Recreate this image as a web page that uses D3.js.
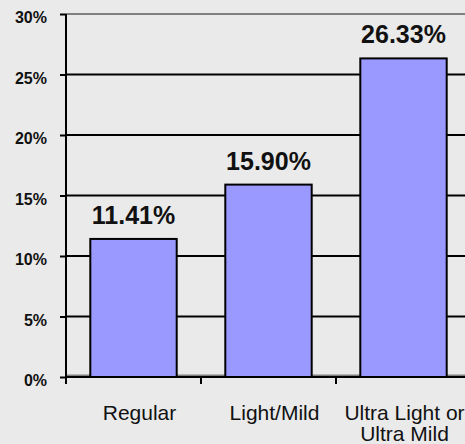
<!DOCTYPE html>
<html>
<head>
<meta charset="utf-8">
<script src="https://cdn.jsdelivr.net/npm/d3@7"></script>
<style>
  body { margin: 0; background: #eaeaea; }
  svg { display: block; font-family: Arial, "Liberation Sans", sans-serif; }
</style>
</head>
<body>
<svg width="465" height="444"></svg>
<script>
// chart data
const categories = ["Regular", "Light/Mild", "Ultra Light or Ultra Mild"]
const catLines = [["Regular"], ["Light/Mild"], ["Ultra Light or", "Ultra Mild"]]
const values = [11.41, 15.90, 26.33]
const valueLabels = ["11.41%", "15.90%", "26.33%"]
const yTicks = [0, 5, 10, 15, 20, 25, 30]

const svg = d3.select("svg")

// plot area
const plotLeft = 66, plotRight = 471, plotTop = 14, plotBottom = 377

const x = d3.scaleBand()
  .domain(categories)
  .range([plotLeft, plotRight])
  .paddingInner(0.36)
  .paddingOuter(0.18)

const y = d3.scaleLinear()
  .domain([0, 30])
  .range([plotBottom, plotTop])

// gridlines
svg.append("g")
  .selectAll("line")
  .data(yTicks.filter(d => d > 0))
  .join("line")
  .attr("x1", plotLeft)
  .attr("x2", 465)
  .attr("y1", d => y(d))
  .attr("y2", d => y(d))
  .attr("stroke", d => d === 30 ? "#808080" : "#000")
  .attr("stroke-width", 2)

// grey floor under the bars
svg.append("line")
  .attr("x1", plotLeft).attr("x2", 465)
  .attr("y1", plotBottom - 1.5).attr("y2", plotBottom - 1.5)
  .attr("stroke", "#808080")
  .attr("stroke-width", 2)

// bars
svg.append("g")
  .selectAll("rect")
  .data(values)
  .join("rect")
  .attr("x", (d, i) => x(categories[i]))
  .attr("y", d => y(d))
  .attr("width", x.bandwidth())
  .attr("height", d => y(0) - y(d))
  .attr("fill", "#9999ff")
  .attr("stroke", "#000")
  .attr("stroke-width", 2)

// value labels
svg.append("g")
  .selectAll("text")
  .data(values)
  .join("text")
  .attr("x", (d, i) => x(categories[i]) + x.bandwidth() / 2)
  .attr("y", d => y(d) - 15)
  .attr("text-anchor", "middle")
  .style("font-size", "25px")
  .style("font-weight", "bold")
  .style("fill", "#111")
  .text((d, i) => valueLabels[i])

// x axis
svg.append("line")
  .attr("x1", plotLeft).attr("x2", 465)
  .attr("y1", plotBottom).attr("y2", plotBottom)
  .attr("stroke", "#000").attr("stroke-width", 2)

const xTickPos = [1, 2].map(i => plotLeft + i * (plotRight - plotLeft) / 3)
svg.append("g")
  .selectAll("line")
  .data(xTickPos)
  .join("line")
  .attr("x1", d => d).attr("x2", d => d)
  .attr("y1", plotBottom).attr("y2", plotBottom + 7)
  .attr("stroke", "#000").attr("stroke-width", 2)

const xl = svg.append("g")
  .selectAll("text")
  .data(categories)
  .join("text")
  .attr("y", 420)
  .attr("text-anchor", "middle")
  .style("font-size", "21px")
  .style("fill", "#111")
xl.each(function(d, i) {
  const t = d3.select(this)
  const cx = x(d) + x.bandwidth() / 2 + (i < 2 ? 6 : 1)
  catLines[i].forEach((s, j) => {
    t.append("tspan")
      .attr("x", cx)
      .attr("dy", j === 0 ? 0 : 21)
      .text(s)
  })
})

// y axis
const yAxis = d3.axisLeft(y)
  .tickValues(yTicks)
  .tickFormat(d => d + "%")
  .tickSize(6)
  .tickPadding(13)

const yg = svg.append("g")
  .attr("transform", "translate(" + plotLeft + ",0)")
  .call(yAxis)
yg.select(".domain").remove()
yg.selectAll("line").attr("stroke", "#000").attr("stroke-width", 2)
yg.selectAll("text")
  .attr("dy", "0.55em")
  .style("font-size", "16px")
  .style("font-weight", "bold")
  .style("font-family", "Arial, 'Liberation Sans', sans-serif")
  .style("fill", "#111")

svg.append("line")
  .attr("x1", plotLeft).attr("x2", plotLeft)
  .attr("y1", plotTop).attr("y2", plotBottom + 7)
  .attr("stroke", "#000").attr("stroke-width", 2)
</script>
</body>
</html>
